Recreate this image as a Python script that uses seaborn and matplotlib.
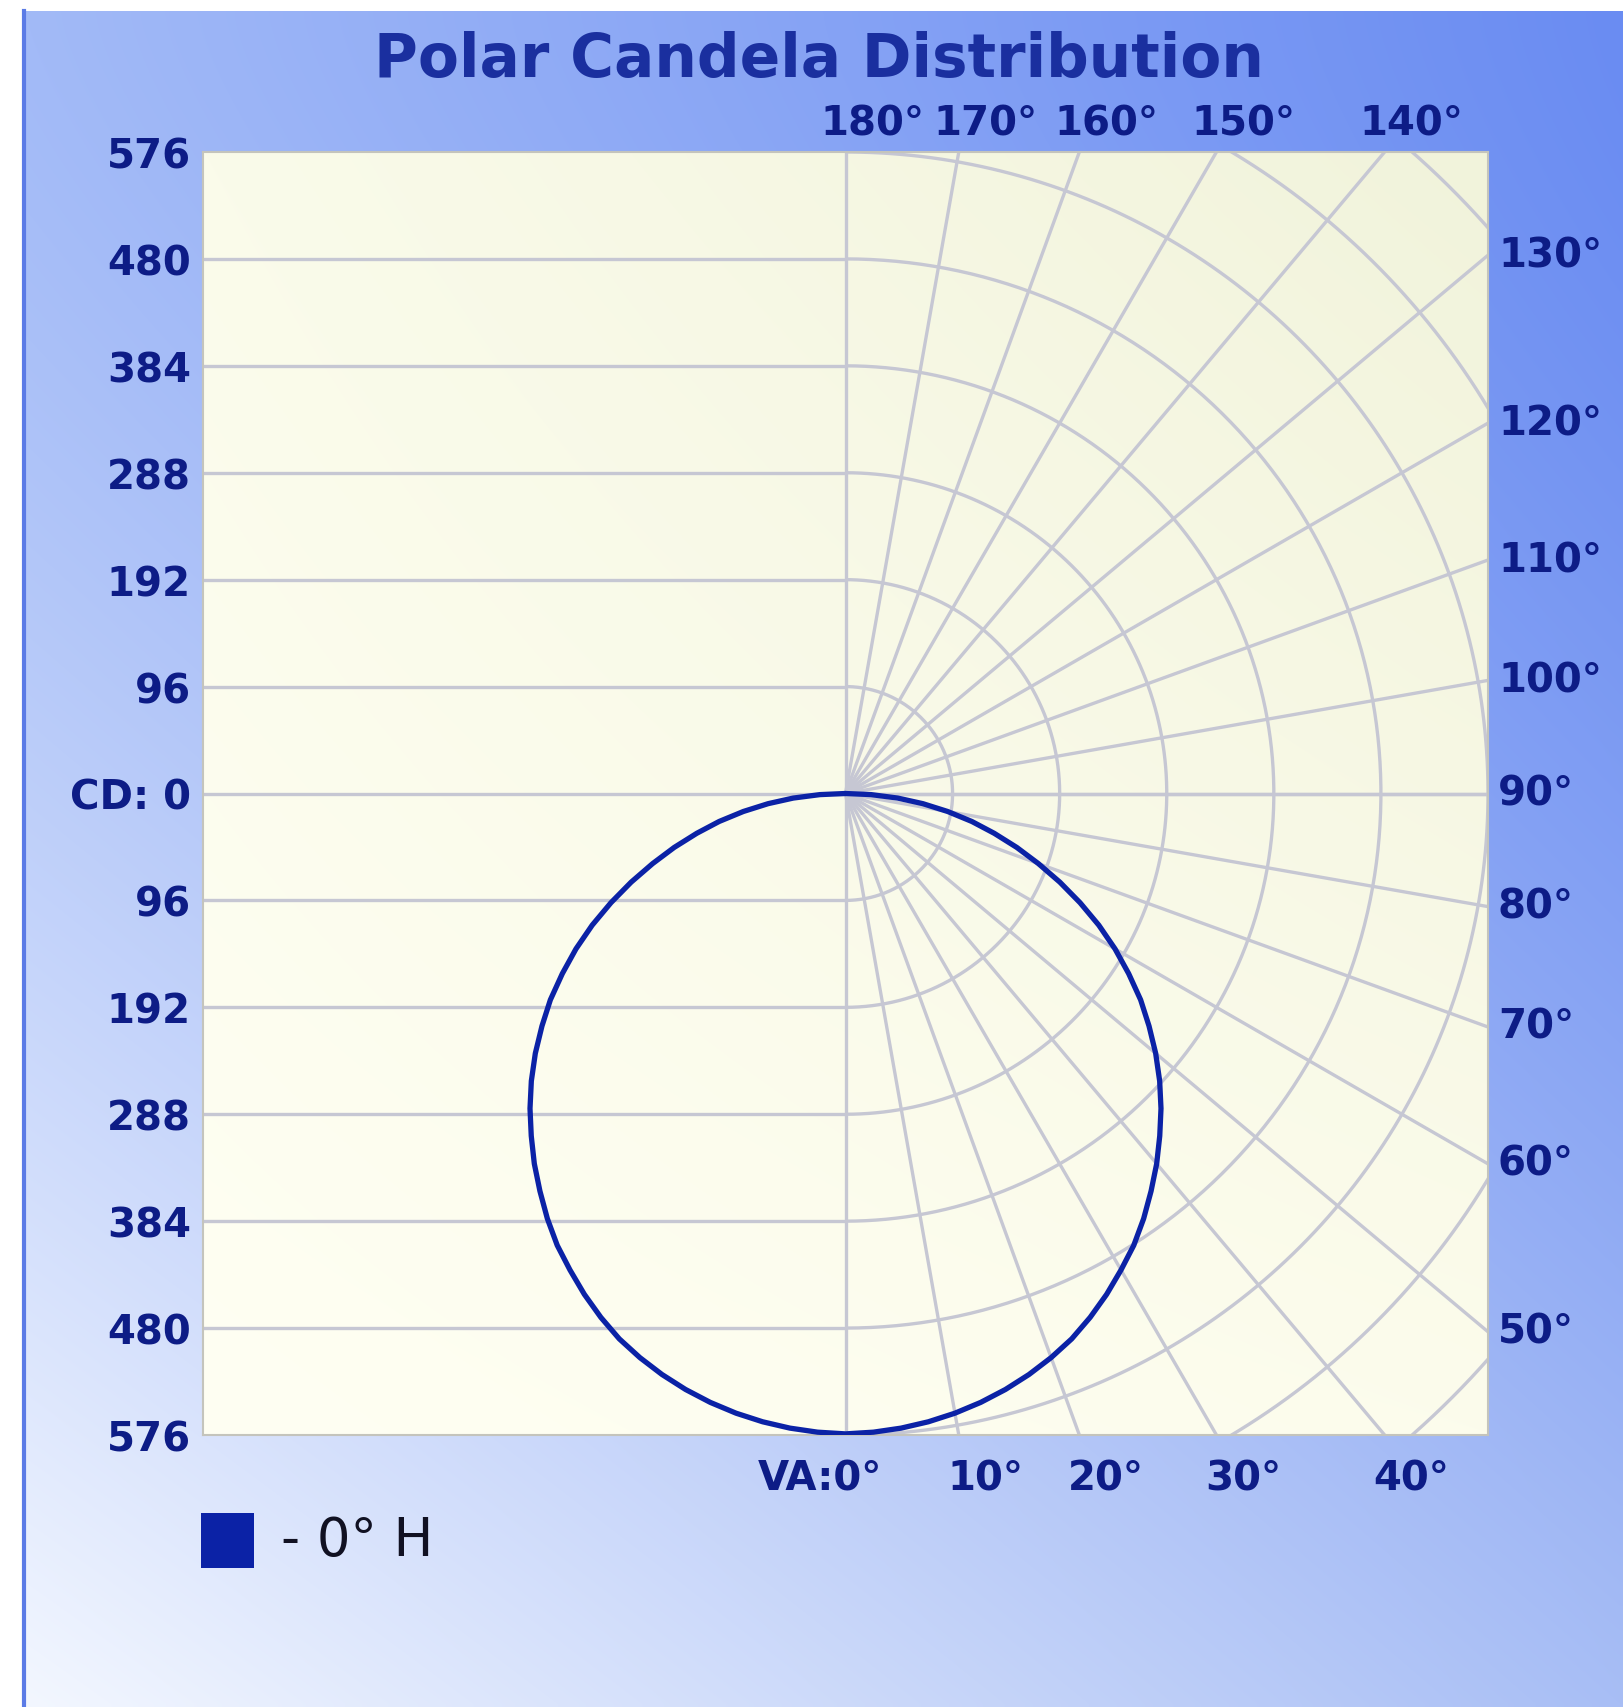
import numpy as np
import pandas as pd
import matplotlib.pyplot as plt
import seaborn as sns
from matplotlib.patches import Rectangle

sns.set_style("white")
plt.rcParams["font.family"] = ["DejaVu Sans"]

W, H = 1623, 1708

# vertical angle (deg from nadir) and candela for the 0° H plane
angles = [0, 2.5, 5, 7.5, 10, 12.5, 15, 17.5, 20, 22.5, 25, 27.5, 30, 32.5,
          35, 37.5, 40, 42.5, 45, 47.5, 50, 52.5, 55, 57.5, 60, 62.5, 65,
          67.5, 70, 72.5, 75, 77.5, 80, 82.5, 85, 87.5, 90]
candela = [575, 574, 572, 569, 565, 560, 554, 547, 539, 530, 519, 507, 494,
           481, 466, 450, 434, 417, 400, 382, 363, 343, 323, 301, 279, 256,
           232, 208, 184, 161, 138, 116, 93, 70, 47, 23, 0]

cd_ticks = [576, 480, 384, 288, 192, 96, 0, -96, -192, -288, -384, -480, -576]
cd_labels = ["576", "480", "384", "288", "192", "96", "CD: 0",
             "96", "192", "288", "384", "480", "576"]

bottom_angles = [0, 10, 20, 30, 40]
right_angles = [50, 60, 70, 80, 90, 100, 110, 120, 130]
top_angles = [140, 150, 160, 170, 180]

series_name = "- 0° H"

cd_max = 576
cd_step = 96

label_color = "#0d1c86"
title_color = "#1a2f9f"
grid_color = "#c6c7d3"
curve_color = "#0b22a6"

px = 0.72  # points per pixel at dpi 100

fig = plt.figure(figsize=(W / 100, H / 100), dpi=100, facecolor="white")

# figure background gradient
bg = fig.add_axes([24 / W, 0, 1 - 24 / W, (H - 12) / H], zorder=-10)
u = np.linspace(0, 1, 300)[None, :, None]
v = (np.linspace(0, 1, 300) ** 1.4)[:, None, None]
tl = np.array([162, 186, 247]) / 255
tr = np.array([106, 140, 242]) / 255
bl = np.array([243, 247, 255]) / 255
br = np.array([168, 190, 245]) / 255
grad = (1 - v) * ((1 - u) * tl + u * tr) + v * ((1 - u) * bl + u * br)
bg.imshow(grad, aspect="auto", extent=[0, 1, 0, 1], interpolation="bilinear")
bg.set_xticks([])
bg.set_yticks([])
for s in ["top", "right", "bottom"]:
    bg.spines[s].set_visible(False)
bg.spines["left"].set_color("#5b7be6")
bg.spines["left"].set_linewidth(3)

# main plot area
ax = fig.add_axes([203 / W, (H - 1436) / H, 1285 / W, 1283 / H])
ax.set_xlim(-cd_max, cd_max)
ax.set_ylim(-cd_max, cd_max)

pu = np.linspace(0, 1, 200)[None, :, None]
pv = np.linspace(0, 1, 200)[:, None, None]
ptl = np.array([250, 251, 234]) / 255
ptr = np.array([241, 243, 219]) / 255
pbl = np.array([255, 255, 243]) / 255
pbr = np.array([252, 252, 236]) / 255
pgrad = (1 - pv) * ((1 - pu) * ptl + pu * ptr) + pv * ((1 - pu) * pbl + pu * pbr)
ax.imshow(pgrad, aspect="auto", extent=[-cd_max, cd_max, -cd_max, cd_max],
          interpolation="bilinear", zorder=0)

grid_kw = dict(color=grid_color, linewidth=2.4, zorder=1, solid_capstyle="butt")

# horizontal lines on the left half
for k in range(1, 6):
    for sgn in (1, -1):
        ax.plot([-cd_max, 0], [sgn * k * cd_step] * 2, **grid_kw)
ax.plot([-cd_max, cd_max], [0, 0], **grid_kw)
ax.plot([0, 0], [-cd_max, cd_max], **grid_kw)

# circular arcs on the right half
phi = np.linspace(-np.pi / 2, np.pi / 2, 400)
for k in range(1, 9):
    r = k * cd_step
    ax.plot(r * np.cos(phi), r * np.sin(phi), **grid_kw)

# radial lines every 10 degrees
for a in range(10, 180, 10):
    t = np.radians(a)
    ax.plot([0, 1000 * np.sin(t)], [0, -1000 * np.cos(t)], **grid_kw)

# candela curve (mirrored for left half)
th = np.radians(angles)
cd = np.array(candela, dtype=float)
xr = cd * np.sin(th)
yr = -cd * np.cos(th)
df = pd.DataFrame({
    "x": np.concatenate([-xr[::-1], xr[1:]]),
    "y": np.concatenate([yr[::-1], yr[1:]]),
})
sns.lineplot(data=df, x="x", y="y", sort=False, estimator=None, ax=ax,
             color=curve_color, linewidth=3.8, zorder=5)
for line in ax.lines[-1:]:
    line.set_solid_joinstyle("round")
ax.set_xlabel("")
ax.set_ylabel("")

# axes styling
ax.set_xticks([])
ax.set_yticks(cd_ticks)
ax.set_yticklabels(cd_labels)
ax.tick_params(axis="y", length=0, pad=12 * px, labelsize=29,
               labelcolor=label_color)
for lab in ax.get_yticklabels():
    lab.set_fontweight("bold")
for s in ax.spines.values():
    s.set_color("#c4c4bc")
    s.set_linewidth(1.5)

lab_kw = dict(textcoords="offset points", fontsize=29, fontweight="bold",
              color=label_color, annotation_clip=False)

for a in bottom_angles:
    t = np.radians(a)
    xb = cd_max * np.tan(t)
    if a == 0:
        ax.annotate("VA:0°", (xb, -cd_max), xytext=(37 * px, -44 * px),
                    ha="right", va="center", **lab_kw)
    else:
        ax.annotate(f"{a}°", (xb, -cd_max), xytext=(27 * px, -44 * px),
                    ha="center", va="center", **lab_kw)

for a in right_angles:
    t = np.radians(a)
    yb = -cd_max * np.cos(t) / np.sin(t)
    ax.annotate(f"{a}°", (cd_max, yb), xytext=(10 * px, 0),
                ha="left", va="center", **lab_kw)

for a in top_angles:
    t = np.radians(a)
    xb = -cd_max * np.tan(t)
    ax.annotate(f"{a}°", (xb, cd_max), xytext=(27 * px, 28 * px),
                ha="center", va="center", **lab_kw)

# title
fig.text(819 / W, 1 - 60 / H, "Polar Candela Distribution", ha="center",
         va="center", fontsize=43, fontweight="bold", color=title_color)

# legend
fig.patches.append(Rectangle((201 / W, 1 - 1569 / H), 53 / W, 55 / H,
                             transform=fig.transFigure, facecolor=curve_color,
                             edgecolor="none"))
fig.text(281 / W, 1 - 1541 / H, series_name, ha="left", va="center",
         fontsize=38, color="#111122")

fig.savefig("out.png", dpi=100)
